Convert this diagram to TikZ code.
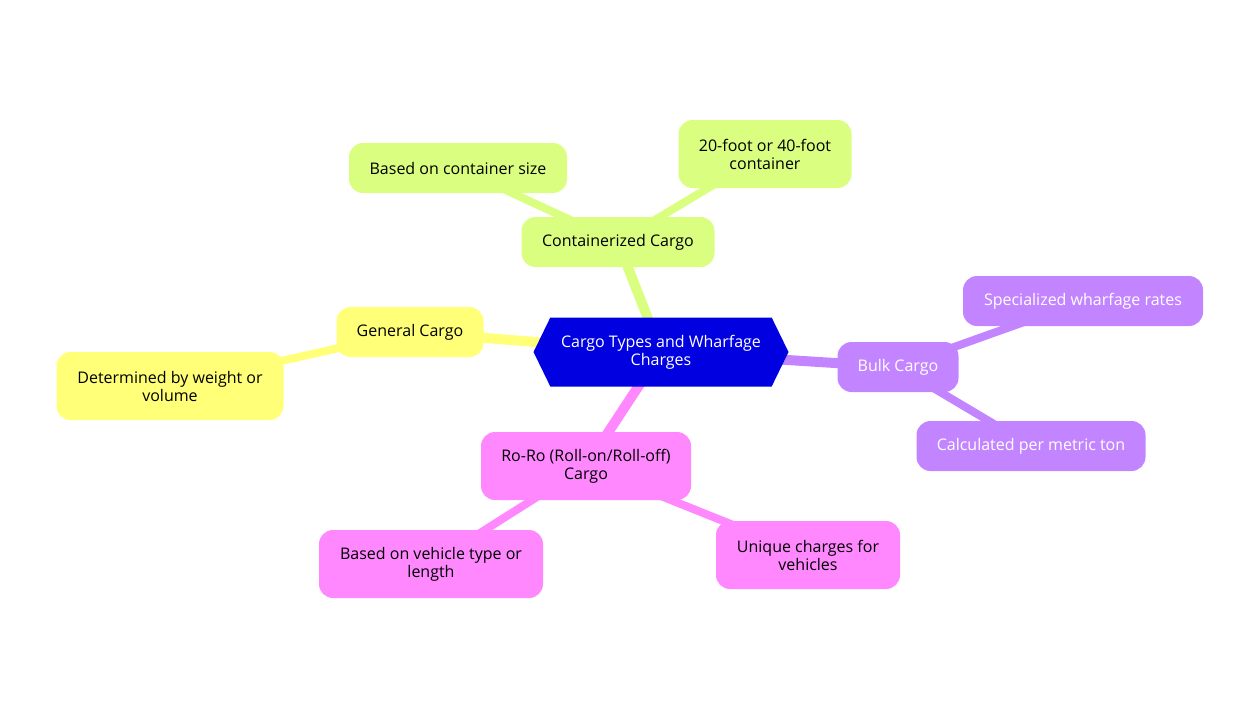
\documentclass[tikz,border=0pt]{standalone}
\usepackage{fontspec}
\setmainfont{Open Sans}
\usetikzlibrary{shapes.symbols,backgrounds}
\definecolor{cblue}{HTML}{0000E0}
\definecolor{cgreen}{HTML}{DAFF80}
\definecolor{cyellow}{HTML}{FFFF78}
\definecolor{cpurple}{HTML}{C385FF}
\definecolor{cpink}{HTML}{FF88FF}
\begin{document}
\begin{tikzpicture}[x=1pt,y=-1pt,
  every node/.style={font=\fontsize{16}{18}\selectfont, align=center, inner sep=0pt},
  box/.style={rounded corners=14pt, minimum width=#1},
  lk/.style={line width=10pt},
  sublk/.style={line width=8pt}]
\useasboundingbox (0,0) rectangle (1254,716);
% nodes
\node[signal, signal to=east and west, signal pointer angle=128, fill=cblue, text=white,
      minimum width=255, minimum height=69] (root) at (661,352) {Cargo Types and Wharfage\\Charges};
\node[box=193, minimum height=50, fill=cgreen] (cont) at (618,242) {Containerized Cargo};
\node[box=218, minimum height=50, fill=cgreen] (csize) at (458,168) {Based on container size};
\node[box=173, minimum height=68, fill=cgreen] (cfoot) at (765,154) {20-foot or 40-foot\\container};
\node[box=147, minimum height=50, fill=cyellow] (gen) at (410,332) {General Cargo};
\node[box=227, minimum height=68, fill=cyellow] (gweight) at (170,386) {Determined by weight or\\volume};
\node[box=121, minimum height=50, fill=cpurple, text=white] (bulk) at (898,367) {Bulk Cargo};
\node[box=240, minimum height=50, fill=cpurple, text=white] (bspec) at (1083,301) {Specialized wharfage rates};
\node[box=229, minimum height=50, fill=cpurple, text=white] (bcalc) at (1031,446) {Calculated per metric ton};
\node[box=210, minimum height=68, fill=cpink] (roro) at (586,466) {Ro-Ro (Roll-on/Roll-off)\\Cargo};
\node[box=224, minimum height=68, fill=cpink] (rveh) at (431,564) {Based on vehicle type or\\length};
\node[box=184, minimum height=68, fill=cpink] (runi) at (808,555) {Unique charges for\\vehicles};
% connectors behind nodes
\begin{scope}[on background layer]
\draw[lk, cgreen] (root.center) -- (cont.center);
\draw[sublk, cgreen] (cont.center) -- (csize.center);
\draw[sublk, cgreen] (cont.center) -- (cfoot.center);
\draw[lk, cyellow] (root.center) -- (gen.center);
\draw[sublk, cyellow] (gen.center) -- (gweight.center);
\draw[lk, cpurple] (root.center) -- (bulk.center);
\draw[sublk, cpurple] (bulk.center) -- (bspec.center);
\draw[sublk, cpurple] (bulk.center) -- (bcalc.center);
\draw[lk, cpink] (root.center) -- (roro.center);
\draw[sublk, cpink] (roro.center) -- (rveh.center);
\draw[sublk, cpink] (roro.center) -- (runi.center);
\end{scope}
\end{tikzpicture}
\end{document}
